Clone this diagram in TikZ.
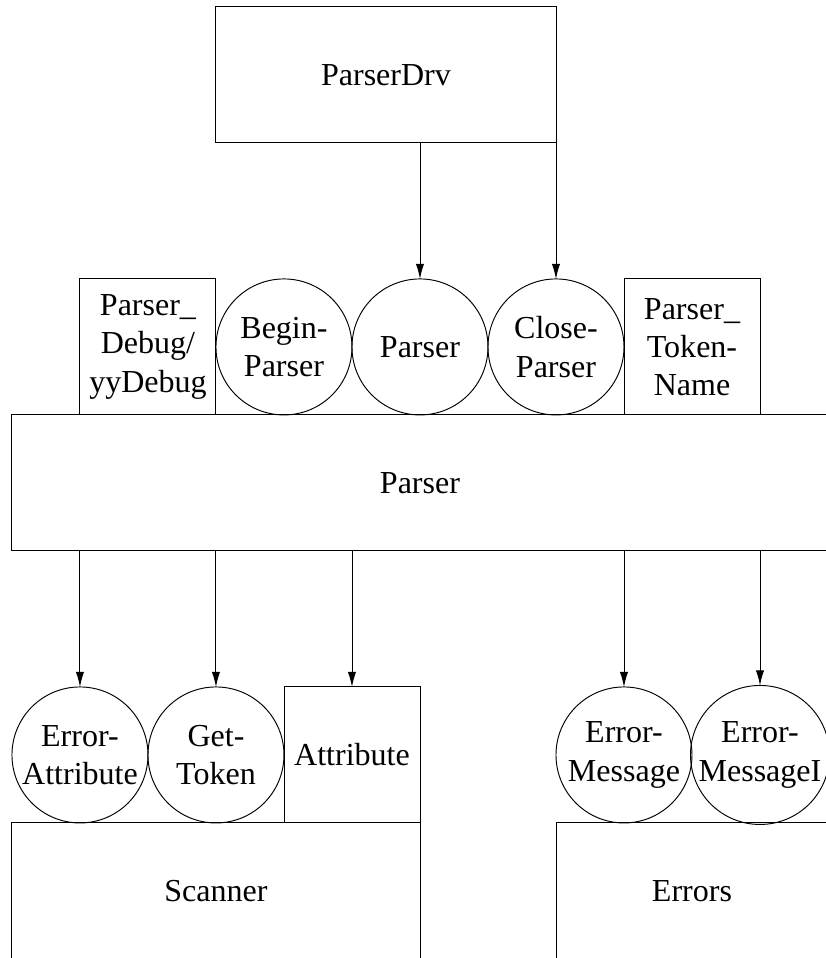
\documentclass[tikz,border=0pt]{standalone}
\usepackage{fontspec}
\setmainfont{Liberation Serif}
\usepackage{tikz}
\usetikzlibrary{positioning,arrows.meta}

\begin{document}
\begin{tikzpicture}[x=2cm,y=-2cm,>={Latex[length=2.2mm,width=1.2mm]},
  font=\fontsize{13.4}{16}\selectfont,
  box/.style={draw,rectangle,inner sep=0pt,outer sep=0pt,minimum width=2cm,minimum height=2cm,align=center},
  proc/.style={draw,circle,inner sep=0pt,outer sep=0pt,minimum size=2cm,align=center}]
  \clip (-0.088,-0.051) rectangle (5.985,6.993);
  % ---------------- driver ----------------
  \node[box,minimum width=5cm] (drv) at (2.75,0.5) {ParserDrv};
  % ---------------- parser module ----------------
  \node[box] (dbg) at (1,2.5) {Parser\_\\Debug/\\yyDebug};
  \node[proc] (bgn) at (2,2.5) {Begin-\\Parser};
  \node[proc] (prs) at (3,2.5) {Parser};
  \node[proc] (cls) at (4,2.5) {Close-\\Parser};
  \node[box] (tkn) at (5,2.5) {Parser\_\\Token-\\Name};
  \node[box,minimum width=12cm] (parser) at (3,3.5) {Parser};
  % ---------------- scanner module ----------------
  \node[proc] (erratt) at (0.5,5.5) {Error-\\Attribute};
  \node[proc] (gettok) at (1.5,5.5) {Get-\\Token};
  \node[box] (attr) at (2.5,5.5) {Attribute};
  \node[box,minimum width=6cm] (scanner) at (1.5,6.5) {Scanner};
  % ---------------- errors module ----------------
  \node[proc] (errmsg) at (4.5,5.5) {Error-\\Message};
  \node[proc] (errmsgi) at (5.5,5.5) {Error-\\MessageI};
  \node[box,minimum width=4cm] (errors) at (5,6.5) {Errors};
  % ---------------- calls ----------------
  \draw[->] (prs |- drv.south) -- (prs);
  \draw[->] (cls |- drv.south) -- (cls);
  \foreach \t in {erratt,gettok,attr,errmsg,errmsgi}
    \draw[->] (\t |- parser.south) -- (\t);
\end{tikzpicture}
\end{document}
